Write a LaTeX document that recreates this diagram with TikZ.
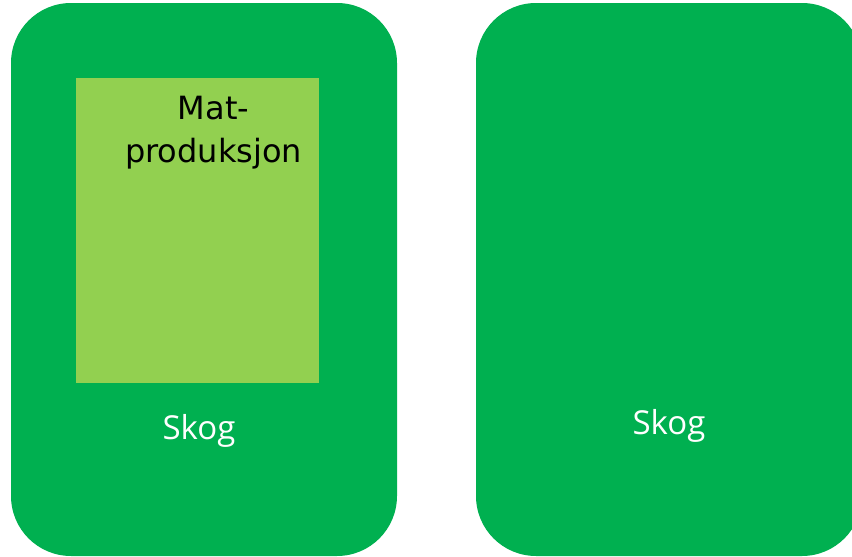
\documentclass[tikz,border=0pt]{standalone}
\usepackage{fontspec}
\newfontfamily\labelfont{DejaVu Sans}
\newfontfamily\skogfont{Open Sans}
\definecolor{skoggreen}{HTML}{00B050}
\definecolor{matgreen}{HTML}{92D050}
\tikzset{
  skogbox/.style={fill=skoggreen, draw=none, rounded corners=60pt},
  matbox/.style={fill=matgreen, draw=none},
  skoglabel/.style={text=white, font=\skogfont\fontsize{33pt}{39pt}\selectfont, inner sep=0pt, anchor=base},
  matlabel/.style={text=black, font=\labelfont\fontsize{32pt}{43pt}\selectfont, align=center, inner sep=0pt, anchor=north}
}
\begin{document}
\begin{tikzpicture}[x=1pt,y=-1pt]
\useasboundingbox (0,0) rectangle (852,557);
\clip (0,0) rectangle (852,557);
\path[skogbox] (11,3) rectangle (397,556);
\path[skogbox] (476,3) rectangle (862,556);
\node[matbox, minimum width=243pt, minimum height=305pt, inner sep=0pt, anchor=north west] (mat) at (76,78) {};
\node[matlabel] (mattext) at (213.5,96) {Mat-\\produksjon};
\node[skoglabel] (skog1) at (199,439) {Skog};
\node[skoglabel] (skog2) at (669,434) {Skog};
\end{tikzpicture}
\end{document}
